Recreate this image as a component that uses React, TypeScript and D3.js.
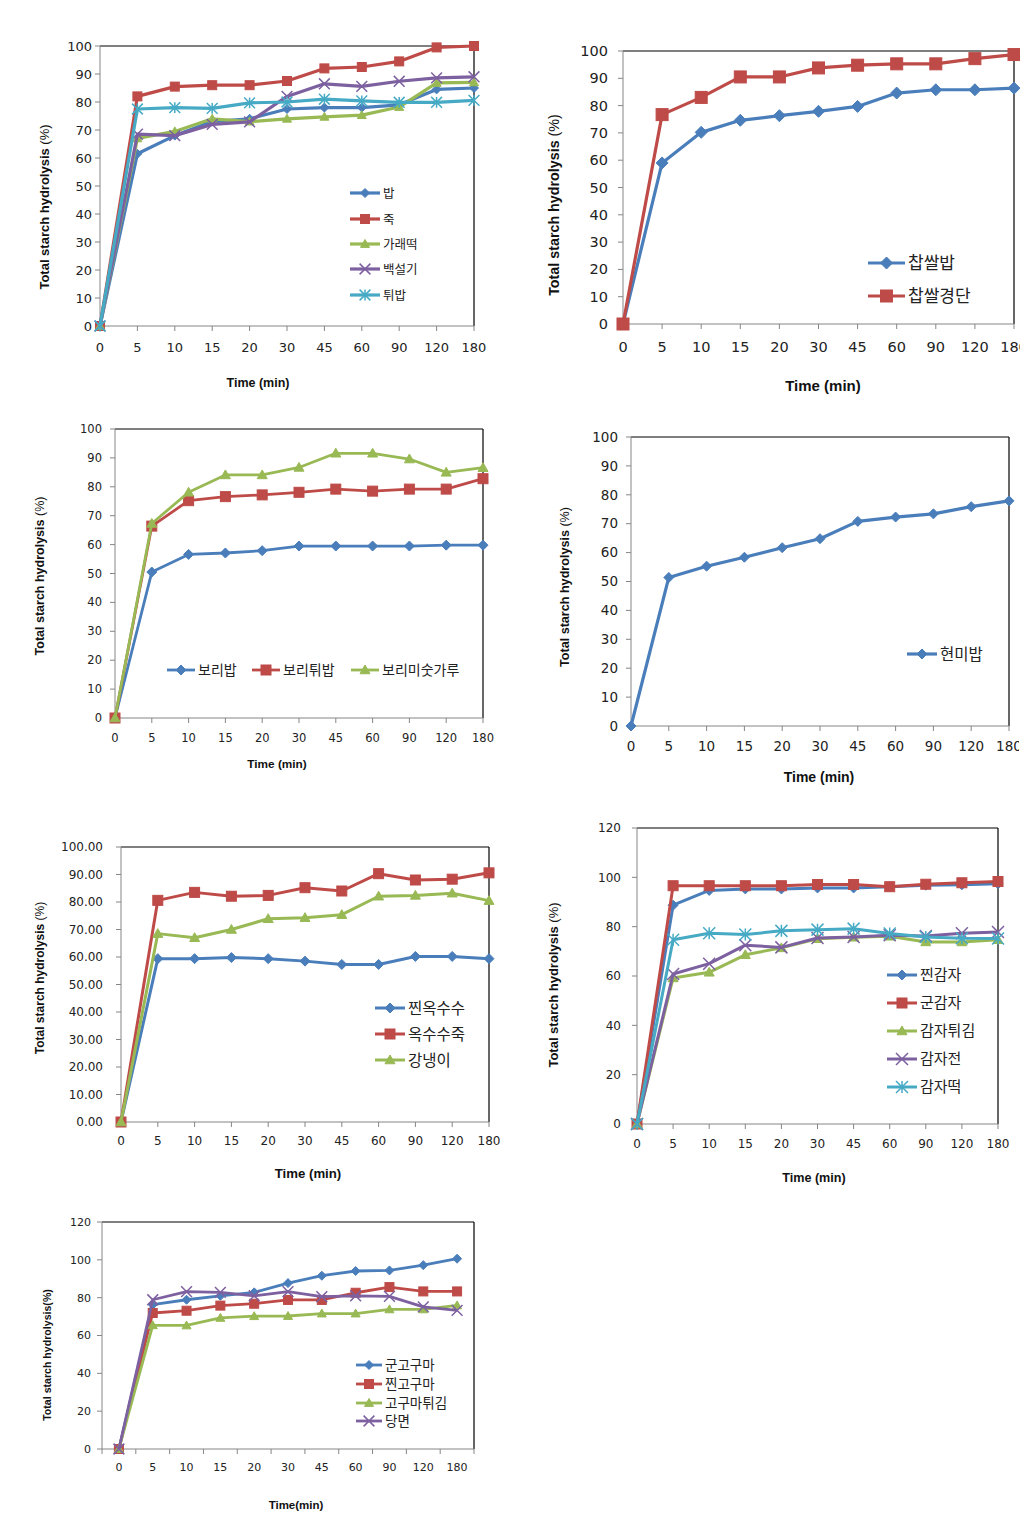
import * as d3 from "d3";

// time points (min), shared by every panel
const times = ["0", "5", "10", "15", "20", "30", "45", "60", "90", "120", "180"];

// rice products
const bap = [0, 61.5, 68, 73, 74, 77.5, 78, 78, 79, 84.5, 85];
const juk = [0, 82, 85.5, 86, 86, 87.5, 92, 92.5, 94.5, 99.5, 100];
const garaetteok = [0, 67, 69.5, 74, 73, 74, 74.7, 75.3, 78.2, 86.8, 87];
const baekseolgi = [0, 68.5, 68, 72, 72.9, 82, 86.5, 85.6, 87.4, 88.6, 89];
const twibap = [0, 77.5, 78, 77.7, 79.7, 80, 81, 80.4, 79.9, 79.9, 80.6];

// glutinous rice
const chapssalbap = [0, 59, 70.2, 74.6, 76.3, 77.9, 79.7, 84.6, 85.8, 85.8, 86.4];
const chapssalgyeongdan = [0, 76.7, 83, 90.5, 90.5, 93.8, 94.8, 95.3, 95.3, 97.2, 98.7];

// barley
const boribap = [0, 50.5, 56.6, 57.1, 57.9, 59.5, 59.5, 59.5, 59.5, 59.8, 59.8];
const boritwibap = [0, 66.4, 75.2, 76.6, 77.2, 78.1, 79.2, 78.5, 79.2, 79.2, 82.8];
const borimisutgaru = [0, 67.3, 78.1, 84.1, 84.1, 86.7, 91.6, 91.6, 89.6, 85, 86.6];

// brown rice
const hyeonmibap = [0, 51.4, 55.3, 58.4, 61.7, 64.8, 70.8, 72.3, 73.4, 75.9, 77.9];

// corn
const jjinoksusu = [0, 59.4, 59.4, 59.8, 59.4, 58.5, 57.3, 57.3, 60.2, 60.2, 59.4];
const oksusujuk = [0, 80.6, 83.5, 82.1, 82.4, 85.2, 84, 90.3, 88, 88.3, 90.6];
const gangnaengi = [0, 68.5, 67, 70, 73.9, 74.3, 75.4, 82.1, 82.4, 83.2, 80.5];

// potato
const jjingamja = [0, 88.7, 94.7, 95.3, 95.3, 95.7, 95.7, 96.2, 96.8, 97, 97.4];
const gungamja = [0, 96.6, 96.6, 96.6, 96.6, 97.1, 97.1, 96.2, 97.2, 97.8, 98.3];
const gamjatwigim = [0, 59.2, 61.5, 68.6, 71.4, 75.1, 75.7, 76.1, 73.8, 73.8, 74.7];
const gamjajeon = [0, 60.8, 65, 72.5, 71.6, 75.4, 75.8, 76.5, 76.2, 77.3, 77.8];
const gamjatteok = [0, 74.7, 77.3, 76.8, 78.3, 78.8, 79.2, 77.2, 75.8, 75.3, 75.2];

// sweet potato
const gungoguma = [0, 76.3, 78.9, 81, 82.8, 87.7, 91.6, 94.1, 94.4, 97.2, 100.6];
const jjingoguma = [0, 71.9, 73.1, 75.8, 76.8, 78.8, 78.8, 82.6, 85.6, 83.3, 83.3];
const gogumatwigim = [0, 65.4, 65.3, 69.3, 70.2, 70.3, 71.6, 71.6, 73.8, 73.8, 75.9];
const dangmyeon = [0, 78.9, 83.2, 82.8, 81, 83.2, 80.5, 81, 80.7, 75.1, 73.3];

const BLUE = "#4A7EBB";
const RED = "#BE4B48";
const GREEN = "#98B954";
const PURPLE = "#7D60A0";
const CYAN = "#46AAC5";

type Marker = "diamond" | "square" | "triangle" | "x" | "star";

interface Series {
  name: string;
  values: number[];
  color: string;
  marker: Marker;
}

interface PanelCfg {
  left: number;
  top: number;
  right: number;
  bottom: number;
  yMax: number;
  yStep: number;
  decimals: number;
  band?: boolean;
  tickFont: number;
  yLabelGap: number;
  xLabelY: number;
  yTitle: string;
  yTitleBoldAll?: boolean;
  yTitleX: number;
  yTitleY: number;
  yTitleFont: number;
  xTitle: string;
  xTitleX: number;
  xTitleY: number;
  xTitleFont: number;
  legendFont: number;
  legendLine: number;
  legend: { x: number; y: number }[];
  markerSize: number;
  lineWidth: number;
  series: Series[];
  clipRight?: number;
}

const panels: PanelCfg[] = [
  {
    left: 100, top: 46, right: 474, bottom: 326, yMax: 100, yStep: 10, decimals: 0,
    tickFont: 13, yLabelGap: 8, xLabelY: 347,
    yTitle: "Total starch hydrolysis", yTitleX: 44, yTitleY: 207, yTitleFont: 13,
    xTitle: "Time (min)", xTitleX: 258, xTitleY: 383, xTitleFont: 12.5,
    legendFont: 12.5, legendLine: 30,
    legend: [
      { x: 350, y: 193 }, { x: 350, y: 219 }, { x: 350, y: 244 }, { x: 350, y: 269 }, { x: 350, y: 295 },
    ],
    markerSize: 9, lineWidth: 3.2,
    series: [
      { name: "밥", values: bap, color: BLUE, marker: "diamond" },
      { name: "죽", values: juk, color: RED, marker: "square" },
      { name: "가래떡", values: garaetteok, color: GREEN, marker: "triangle" },
      { name: "백설기", values: baekseolgi, color: PURPLE, marker: "x" },
      { name: "튀밥", values: twibap, color: CYAN, marker: "star" },
    ],
  },
  {
    left: 623, top: 51, right: 1014, bottom: 324, yMax: 100, yStep: 10, decimals: 0,
    tickFont: 14.5, yLabelGap: 15, xLabelY: 347,
    yTitle: "Total starch hydrolysis", yTitleX: 554, yTitleY: 205, yTitleFont: 14.3,
    xTitle: "Time (min)", xTitleX: 823, xTitleY: 386, xTitleFont: 15,
    legendFont: 17, legendLine: 37,
    legend: [{ x: 868, y: 263 }, { x: 868, y: 296 }],
    markerSize: 12, lineWidth: 3.2,
    series: [
      { name: "찹쌀밥", values: chapssalbap, color: BLUE, marker: "diamond" },
      { name: "찹쌀경단", values: chapssalgyeongdan, color: RED, marker: "square" },
    ],
    clipRight: 1020,
  },
  {
    left: 115, top: 429, right: 483, bottom: 718, yMax: 100, yStep: 10, decimals: 0,
    tickFont: 11.5, yLabelGap: 13, xLabelY: 738,
    yTitle: "Total starch hydrolysis", yTitleX: 40, yTitleY: 576, yTitleFont: 12.5,
    xTitle: "Time (min)", xTitleX: 277, xTitleY: 764, xTitleFont: 11.8,
    legendFont: 14, legendLine: 28,
    legend: [{ x: 167, y: 670 }, { x: 252, y: 670 }, { x: 351, y: 670 }],
    markerSize: 10, lineWidth: 2.8,
    series: [
      { name: "보리밥", values: boribap, color: BLUE, marker: "diamond" },
      { name: "보리튀밥", values: boritwibap, color: RED, marker: "square" },
      { name: "보리미숫가루", values: borimisutgaru, color: GREEN, marker: "triangle" },
    ],
  },
  {
    left: 631, top: 437, right: 1009, bottom: 726, yMax: 100, yStep: 10, decimals: 0,
    tickFont: 13.5, yLabelGap: 13, xLabelY: 746,
    yTitle: "Total starch hydrolysis", yTitleX: 565, yTitleY: 587, yTitleFont: 12.6,
    xTitle: "Time (min)", xTitleX: 819, xTitleY: 777, xTitleFont: 14,
    legendFont: 15.5, legendLine: 30,
    legend: [{ x: 907, y: 654 }],
    markerSize: 10, lineWidth: 3.2,
    series: [{ name: "현미밥", values: hyeonmibap, color: BLUE, marker: "diamond" }],
    clipRight: 1019,
  },
  {
    left: 121, top: 847, right: 489, bottom: 1122, yMax: 100, yStep: 10, decimals: 2,
    tickFont: 12, yLabelGap: 18, xLabelY: 1141,
    yTitle: "Total starch hydrolysis", yTitleX: 40, yTitleY: 978, yTitleFont: 12,
    xTitle: "Time (min)", xTitleX: 308, xTitleY: 1173, xTitleFont: 13.2,
    legendFont: 15.5, legendLine: 30,
    legend: [{ x: 375, y: 1008 }, { x: 375, y: 1034 }, { x: 375, y: 1060 }],
    markerSize: 10, lineWidth: 3,
    series: [
      { name: "찐옥수수", values: jjinoksusu, color: BLUE, marker: "diamond" },
      { name: "옥수수죽", values: oksusujuk, color: RED, marker: "square" },
      { name: "강냉이", values: gangnaengi, color: GREEN, marker: "triangle" },
    ],
  },
  {
    left: 637, top: 828, right: 998, bottom: 1124, yMax: 120, yStep: 20, decimals: 0,
    tickFont: 12, yLabelGap: 16, xLabelY: 1144,
    yTitle: "Total starch hydrolysis", yTitleX: 553, yTitleY: 985, yTitleFont: 13,
    xTitle: "Time (min)", xTitleX: 814, xTitleY: 1178, xTitleFont: 12.6,
    legendFont: 15, legendLine: 30,
    legend: [
      { x: 887, y: 975 }, { x: 887, y: 1003 }, { x: 887, y: 1031 }, { x: 887, y: 1059 }, { x: 887, y: 1087 },
    ],
    markerSize: 10, lineWidth: 3,
    series: [
      { name: "찐감자", values: jjingamja, color: BLUE, marker: "diamond" },
      { name: "군감자", values: gungamja, color: RED, marker: "square" },
      { name: "감자튀김", values: gamjatwigim, color: GREEN, marker: "triangle" },
      { name: "감자전", values: gamjajeon, color: PURPLE, marker: "x" },
      { name: "감자떡", values: gamjatteok, color: CYAN, marker: "star" },
    ],
  },
  {
    left: 102, top: 1222, right: 474, bottom: 1449, yMax: 120, yStep: 20, decimals: 0, band: true,
    tickFont: 11, yLabelGap: 11, xLabelY: 1467,
    yTitle: "Total starch hydrolysis(%)", yTitleBoldAll: true, yTitleX: 47, yTitleY: 1355, yTitleFont: 10.6,
    xTitle: "Time(min)", xTitleX: 296, xTitleY: 1505, xTitleFont: 11.5,
    legendFont: 13.5, legendLine: 26,
    legend: [{ x: 356, y: 1365 }, { x: 356, y: 1384 }, { x: 356, y: 1403 }, { x: 356, y: 1421 }],
    markerSize: 9, lineWidth: 2.8,
    series: [
      { name: "군고구마", values: gungoguma, color: BLUE, marker: "diamond" },
      { name: "찐고구마", values: jjingoguma, color: RED, marker: "square" },
      { name: "고구마튀김", values: gogumatwigim, color: GREEN, marker: "triangle" },
      { name: "당면", values: dangmyeon, color: PURPLE, marker: "x" },
    ],
  },
];

function drawMarker(kind: Marker, cx: number, cy: number, s: number, color: string, key: string) {
  const h = s / 2;
  if (kind === "square")
    return <rect key={key} x={cx - h} y={cy - h} width={s} height={s} fill={color} stroke={color} strokeWidth={1} />;
  if (kind === "diamond") {
    const path = d3.path();
    path.moveTo(cx, cy - h);
    path.lineTo(cx + h, cy);
    path.lineTo(cx, cy + h);
    path.lineTo(cx - h, cy);
    path.closePath();
    return <path key={key} d={path.toString()} fill={color} stroke={color} strokeWidth={1} />;
  }
  if (kind === "triangle") {
    const path = d3.path();
    path.moveTo(cx, cy - h);
    path.lineTo(cx + h, cy + h * 0.75);
    path.lineTo(cx - h, cy + h * 0.75);
    path.closePath();
    return <path key={key} d={path.toString()} fill={color} stroke={color} strokeWidth={1} />;
  }
  // cross-style markers read a little larger in the original
  const r = h * 1.2;
  const path = d3.path();
  path.moveTo(cx - r, cy - r);
  path.lineTo(cx + r, cy + r);
  path.moveTo(cx - r, cy + r);
  path.lineTo(cx + r, cy - r);
  if (kind === "star") {
    path.moveTo(cx, cy - r);
    path.lineTo(cx, cy + r);
  }
  return <path key={key} d={path.toString()} fill="none" stroke={color} strokeWidth={1.5} />;
}

function Panel({ cfg, idx }: { cfg: PanelCfg; idx: number }) {
  const { left, top, right, bottom } = cfg;
  const band = d3.scaleBand<string>().domain(times).range([left, right]).padding(0);
  const point = d3.scalePoint<string>().domain(times).range([left, right]);
  const xc = (t: string) => (cfg.band ? (band(t) ?? 0) + band.bandwidth() / 2 : point(t) ?? 0);
  const y = d3.scaleLinear().domain([0, cfg.yMax]).range([bottom, top]);
  const yTicks = y.ticks(cfg.yMax / cfg.yStep);
  const line = d3
    .line<number>()
    .x((_, i) => xc(times[i]))
    .y((d) => y(d));

  const xTickPos = cfg.band
    ? times.map((t) => band(t) ?? 0).concat([right])
    : times.map((t) => point(t) ?? 0);
  const axisColor = "#868686";
  const clipId = `clip${idx}`;

  return (
    <g clipPath={cfg.clipRight ? `url(#${clipId})` : undefined}>
      {cfg.clipRight && (
        <defs>
          <clipPath id={clipId}>
            <rect x={0} y={0} width={cfg.clipRight} height={1529} />
          </clipPath>
        </defs>
      )}
      {/* frame */}
      <line x1={left} x2={right} y1={top} y2={top} stroke="#000" strokeWidth={1.2} />
      <line x1={right} x2={right} y1={top} y2={bottom} stroke="#000" strokeWidth={1.2} />
      <line x1={left} x2={left} y1={top} y2={bottom} stroke={axisColor} strokeWidth={1} />
      <line x1={left} x2={right} y1={bottom} y2={bottom} stroke={axisColor} strokeWidth={1} />

      {/* y axis */}
      {yTicks.map((v) => (
        <g key={`y${v}`}>
          <line x1={left - 5} x2={left} y1={y(v)} y2={y(v)} stroke={axisColor} />
          <text
            x={left - cfg.yLabelGap}
            y={y(v)}
            dy="0.35em"
            textAnchor="end"
            fontSize={cfg.tickFont}
            fontFamily="DejaVu Sans, Verdana, sans-serif"
            fill="#222"
          >
            {v.toFixed(cfg.decimals)}
          </text>
        </g>
      ))}

      {/* x axis */}
      {xTickPos.map((p, i) => (
        <line key={`xt${i}`} x1={p} x2={p} y1={bottom} y2={bottom + 5} stroke={axisColor} />
      ))}
      {times.map((t) => (
        <text
          key={`x${t}`}
          x={xc(t)}
          y={cfg.xLabelY}
          dy="0.35em"
          textAnchor="middle"
          fontSize={cfg.tickFont}
          fontFamily="DejaVu Sans, Verdana, sans-serif"
          fill="#222"
        >
          {t}
        </text>
      ))}

      {/* titles */}
      <text
        transform={`translate(${cfg.yTitleX},${cfg.yTitleY}) rotate(-90)`}
        textAnchor="middle"
        dy="0.35em"
        fontSize={cfg.yTitleFont}
        fontFamily="Liberation Sans, Arial, sans-serif"
        fontWeight="bold"
        fill="#111"
      >
        {cfg.yTitle}
        {!cfg.yTitleBoldAll && <tspan fontWeight="normal">{"  (%)"}</tspan>}
      </text>
      <text
        x={cfg.xTitleX}
        y={cfg.xTitleY}
        dy="0.35em"
        textAnchor="middle"
        fontSize={cfg.xTitleFont}
        fontFamily="Liberation Sans, Arial, sans-serif"
        fontWeight="bold"
        fill="#111"
      >
        {cfg.xTitle}
      </text>

      {/* series */}
      {cfg.series.map((s, si) => (
        <g key={`s${si}`}>
          <path d={line(s.values) ?? ""} fill="none" stroke={s.color} strokeWidth={cfg.lineWidth} strokeLinejoin="round" />
          {s.values.map((v, i) => drawMarker(s.marker, xc(times[i]), y(v), cfg.markerSize, s.color, `m${si}-${i}`))}
        </g>
      ))}

      {/* legend */}
      {cfg.series.map((s, si) => {
        const pos = cfg.legend[si];
        const mid = pos.x + cfg.legendLine / 2;
        return (
          <g key={`l${si}`}>
            <line x1={pos.x} x2={pos.x + cfg.legendLine} y1={pos.y} y2={pos.y} stroke={s.color} strokeWidth={cfg.lineWidth} />
            {drawMarker(s.marker, mid, pos.y, cfg.markerSize, s.color, `lm${si}`)}
            <text
              x={pos.x + cfg.legendLine + 3}
              y={pos.y}
              dy="0.36em"
              fontSize={cfg.legendFont}
              fontFamily="Noto Sans CJK KR, sans-serif"
              fill="#222"
            >
              {s.name}
            </text>
          </g>
        );
      })}
    </g>
  );
}

export default function App() {
  return (
    <svg
      width={1035}
      height={1529}
      viewBox="0 0 1035 1529"
      style={{ position: "absolute", left: 0, top: 0, background: "#fff" }}
    >
      <rect x={0} y={0} width={1035} height={1529} fill="#fff" />
      {panels.map((p, i) => (
        <Panel key={i} cfg={p} idx={i} />
      ))}
    </svg>
  );
}
